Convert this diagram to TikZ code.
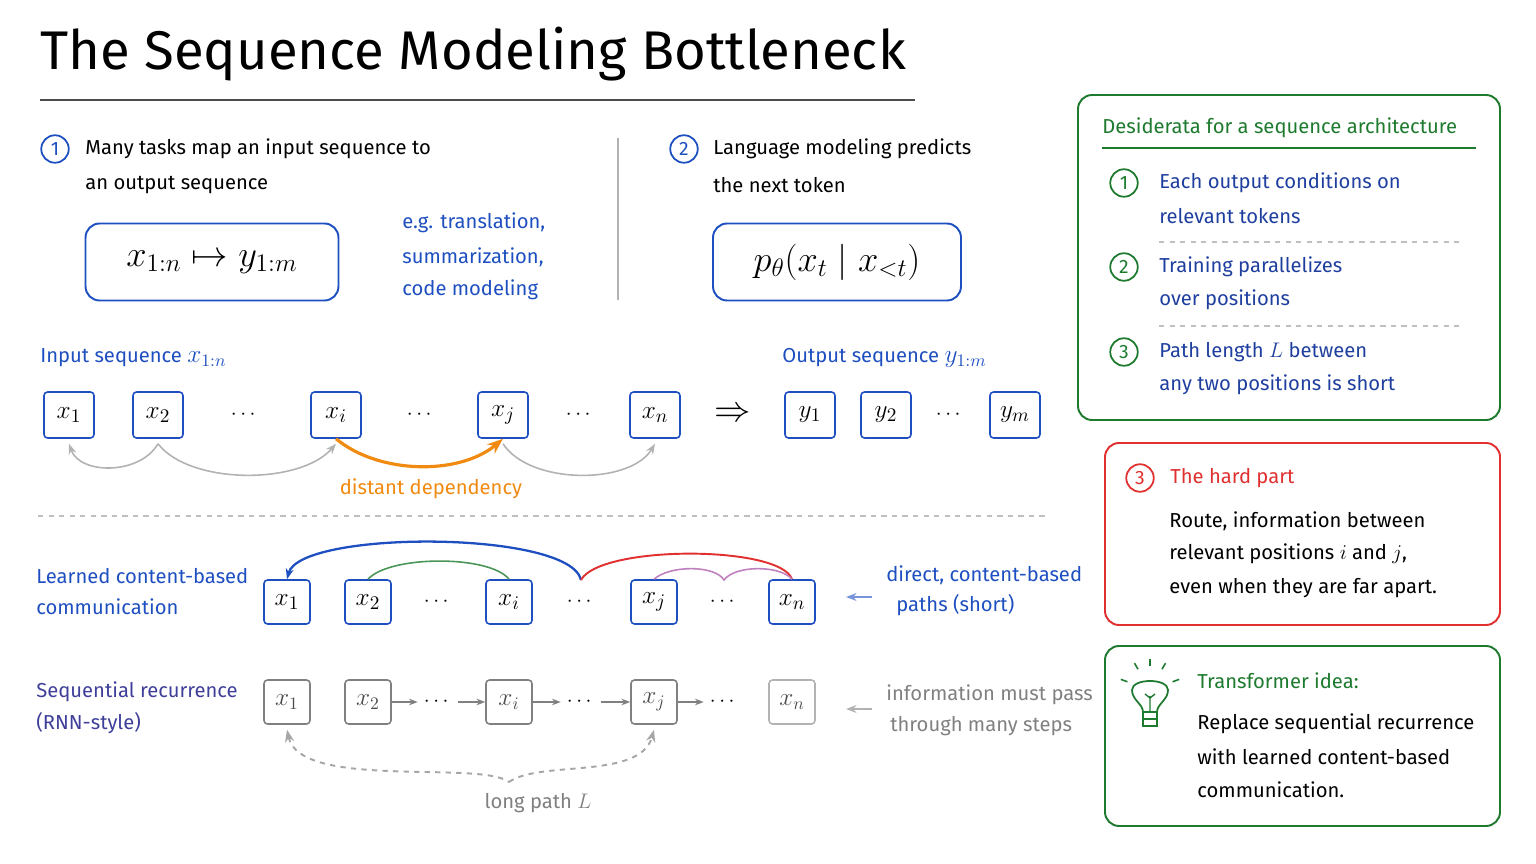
\documentclass[tikz,border=0pt]{standalone}
\usepackage{fontspec}
\setmainfont{Fira Sans}
\usepackage{amsmath}
\usetikzlibrary{arrows.meta}
\definecolor{navy}{HTML}{1F3F9F}
\definecolor{ublue}{HTML}{1E4FC0}
\definecolor{dgreen}{HTML}{1E7A2E}
\definecolor{hred}{HTML}{E03030}
\definecolor{orng}{HTML}{F08A10}
\definecolor{indig}{HTML}{3F3F9A}
\tikzset{
  txt/.style={anchor=west,font=\fontsize{11.5}{14}\selectfont,inner sep=0pt},
  num/.style={circle,draw=#1,text=#1,line width=1pt,minimum size=0.55cm,inner sep=0pt,font=\fontsize{11}{12}\selectfont},
  tok/.style={draw=ublue,rounded corners=2pt,line width=0.9pt,minimum width=1cm,minimum height=0.92cm,font=\fontsize{15}{16}\selectfont},
  tokg/.style={draw=gray,rounded corners=2pt,line width=0.9pt,minimum width=0.92cm,minimum height=0.88cm,text=black!70,font=\fontsize{14}{16}\selectfont},
  panel/.style={rounded corners=8pt,line width=1.1pt},
  sep/.style={gray!50,dashed,line width=0.6pt},
  link/.style={gray!60,line width=0.9pt,-{Stealth[length=6pt]}}
}
\begin{document}
\begin{tikzpicture}[x=0.02cm,y=-0.02cm]
  \useasboundingbox (0,0) rectangle (1536,864);
  % title
  \node[anchor=west,inner sep=0pt,font=\fontsize{31}{34}\selectfont] (title) at (40,54) {The Sequence Modeling Bottleneck};
  \draw[black!70,line width=1pt] (40,100) -- (915,100);

  % task 1
  \node[num=ublue] (n1) at (55,149) {1};
  \node[txt] at (85,149) {Many tasks map an input sequence to};
  \node[txt] at (85,185) {an output sequence};
  \node[draw=ublue,panel,minimum width=5.06cm,minimum height=1.54cm,font=\fontsize{22}{24}\selectfont] (map) at (212,262) {$x_{1:n} \mapsto y_{1:m}$};
  \node[txt,text=ublue] at (402,223) {e.g. translation,};
  \node[txt,text=ublue] at (402,257) {summarization,};
  \node[txt,text=ublue] at (402,290) {code modeling};
  \draw[gray!60,line width=0.8pt] (618,138) -- (618,300);

  % task 2
  \node[num=ublue] (n2) at (684,149) {2};
  \node[txt] at (713,149) {Language modeling predicts};
  \node[txt] at (713,185) {the next token};
  \node[draw=ublue,panel,minimum width=4.96cm,minimum height=1.54cm,font=\fontsize{22}{24}\selectfont] (lm) at (837,262) {$p_\theta(x_t \mid x_{<t})$};

  % sequences
  \node[txt,text=ublue] at (40,358) {Input sequence \fontsize{14}{14}\selectfont$x_{1:n}$};
  \node[txt,text=ublue] at (782,358) {Output sequence \fontsize{14}{14}\selectfont$y_{1:m}$};
  \node[tok] (a1) at (69,415) {$x_1$};
  \node[tok] (a2) at (158,415) {$x_2$};
  \node[font=\large] (ad1) at (245,415) {$\cdots$};
  \node[tok] (ai) at (336,415) {$x_i$};
  \node[font=\large] (ad2) at (421,415) {$\cdots$};
  \node[tok] (aj) at (503,415) {$x_j$};
  \node[font=\large] (ad3) at (580,415) {$\cdots$};
  \node[tok] (an) at (655,415) {$x_n$};
  \node[font=\huge] (imp) at (733,415) {$\Rightarrow$};
  \node[tok] (b1) at (810,415) {$y_1$};
  \node[tok] (b2) at (886,415) {$y_2$};
  \node[font=\large] (bd) at (950,415) {$\cdots$};
  \node[tok] (bm) at (1015,415) {$y_m$};
  \draw[link] ([yshift=-0.1cm]a2.south) .. controls (140,475) and (80,475) .. ([yshift=-0.1cm]a1.south);
  \draw[link] ([yshift=-0.1cm]a2.south) .. controls (190,485) and (300,485) .. ([yshift=-0.1cm]ai.south);
  \draw[link] ([yshift=-0.1cm]aj.south) .. controls (530,485) and (630,485) .. ([yshift=-0.1cm]an.south);
  \draw[orng,line width=1.8pt,-{Stealth[length=9pt]}] (ai.south) .. controls (380,475) and (460,475) .. (aj.south);
  \node[text=orng,font=\fontsize{11.5}{14}\selectfont] (dd) at (431,489) {distant dependency};
  \draw[sep] (38,516) -- (1045,516);

  % content-based row
  \node[txt,text=ublue] at (36,576) {Learned content-based};
  \node[txt,text=ublue] at (36,607) {communication};
  \node[tok,minimum width=0.92cm,minimum height=0.88cm] (c1) at (287,602) {$x_1$};
  \node[tok,minimum width=0.92cm,minimum height=0.88cm] (c2) at (368,602) {$x_2$};
  \node[font=\large] (cd1) at (438,602) {$\cdots$};
  \node[tok,minimum width=0.92cm,minimum height=0.88cm] (ci) at (509,602) {$x_i$};
  \node[font=\large] (cd2) at (581,602) {$\cdots$};
  \node[tok,minimum width=0.92cm,minimum height=0.88cm] (cj) at (654,602) {$x_j$};
  \node[font=\large] (cd3) at (724,602) {$\cdots$};
  \node[tok,minimum width=0.92cm,minimum height=0.88cm] (cn) at (792,602) {$x_n$};
  \coordinate (top) at (581,580);
  \draw[ublue,line width=1.3pt,-{Stealth[length=6pt]}] (top) .. controls (570,530) and (300,530) .. (c1.north);
  \draw[hred,line width=1.1pt] (top) .. controls (600,545) and (780,545) .. (cn.north);
  \draw[dgreen!80,line width=0.9pt] (c2.north) .. controls (390,555) and (490,555) .. (ci.north);
  \draw[violet!50,line width=0.9pt] (cj.north) .. controls (670,565) and (715,565) .. (724,580) .. controls (735,565) and (780,565) .. (cn.north);
  \draw[ublue!60,line width=0.9pt,-{Stealth[length=6pt]}] (872,597) -- (846,597);
  \node[txt,text=ublue] at (886,575) {direct, content-based};
  \node[txt,text=ublue] at (896,605) {paths (short)};

  % recurrence row
  \node[txt,text=indig] at (36,692) {Sequential recurrence};
  \node[txt,text=indig] at (36,723) {(RNN-style)};
  \node[tokg] (r1) at (287,702) {$x_1$};
  \node[tokg] (r2) at (368,702) {$x_2$};
  \node[font=\large] (rd1) at (438,702) {$\cdots$};
  \node[tokg] (ri) at (509,702) {$x_i$};
  \node[font=\large] (rd2) at (581,702) {$\cdots$};
  \node[tokg] (rj) at (654,702) {$x_j$};
  \node[font=\large] (rd3) at (724,702) {$\cdots$};
  \node[tokg,draw=gray!60] (rn) at (792,702) {$x_n$};
  \foreach \u/\v in {r2/rd1,rd1/ri,ri/rd2,rd2/rj,rj/rd3}
    \draw[gray,line width=0.8pt,-{Stealth[length=5pt]}] (\u) -- (\v);
  \draw[gray!70,line width=1.1pt,dashed,{Stealth[length=7pt]}-] ([yshift=-0.1cm]r1.south) .. controls (300,790) and (480,760) .. (509,782);
  \draw[gray!70,line width=1.1pt,dashed,-{Stealth[length=7pt]}] (509,782) .. controls (540,760) and (640,780) .. ([yshift=-0.1cm]rj.south);
  \node[text=gray,font=\fontsize{11.5}{14}\selectfont] (lp) at (538,803) {long path $L$};
  \draw[gray!60,line width=0.9pt,-{Stealth[length=6pt]}] (872,709) -- (846,709);
  \node[txt,text=gray] at (886,695) {information must pass};
  \node[txt,text=gray] at (890,726) {through many steps};

  % desiderata panel
  \draw[panel,draw=dgreen] (1078,95) rectangle (1500,420);
  \node[txt,text=dgreen] at (1102,128) {Desiderata for a sequence architecture};
  \draw[dgreen,line width=0.9pt] (1102,148) -- (1476,148);
  \node[num=dgreen] (d1) at (1124,183) {1};
  \node[txt,text=navy] at (1159,183) {Each output conditions on};
  \node[txt,text=navy] at (1159,216) {relevant tokens};
  \draw[sep] (1159,242) -- (1462,242);
  \node[num=dgreen] (d2) at (1124,267) {2};
  \node[txt,text=navy] at (1159,267) {Training parallelizes};
  \node[txt,text=navy] at (1159,300) {over positions};
  \draw[sep] (1159,326) -- (1462,326);
  \node[num=dgreen] (d3) at (1124,352) {3};
  \node[txt,text=navy] at (1159,352) {Path length $L$ between};
  \node[txt,text=navy] at (1159,385) {any two positions is short};

  % hard part panel
  \draw[panel,draw=hred] (1105,443) rectangle (1500,625);
  \node[num=hred] (h3) at (1140,478) {3};
  \node[txt,text=hred] at (1170,478) {The hard part};
  \node[txt] at (1169,521) {Route, information between};
  \node[txt] at (1169,554) {relevant positions $i$ and $j$,};
  \node[txt] at (1169,588) {even when they are far apart.};

  % transformer panel
  \draw[panel,draw=dgreen] (1105,646) rectangle (1500,826);
  \draw[dgreen,line width=1pt] (1143,712) .. controls (1143,704) and (1132,700) .. (1132,690) .. controls (1132,678) and (1168,678) .. (1168,690) .. controls (1168,700) and (1157,704) .. (1157,712) -- cycle;
  \draw[dgreen,line width=1pt] (1143,712) -- (1143,726) -- (1157,726) -- (1157,712) (1143,719) -- (1157,719);
  \draw[dgreen,line width=0.8pt] (1150,712) -- (1150,696) (1145,694) -- (1150,698) -- (1155,694);
  \foreach \a in {-160,-120,-90,-60,-20}
    \draw[dgreen,line width=0.9pt] (1150,690) ++(\a:24) -- ++(\a:7);
  \node[txt,text=dgreen] at (1197,681) {Transformer idea:};
  \node[txt] at (1197,724) {Replace sequential recurrence};
  \node[txt] at (1197,757) {with learned content-based};
  \node[txt] at (1197,790) {communication.};
\end{tikzpicture}
\end{document}
